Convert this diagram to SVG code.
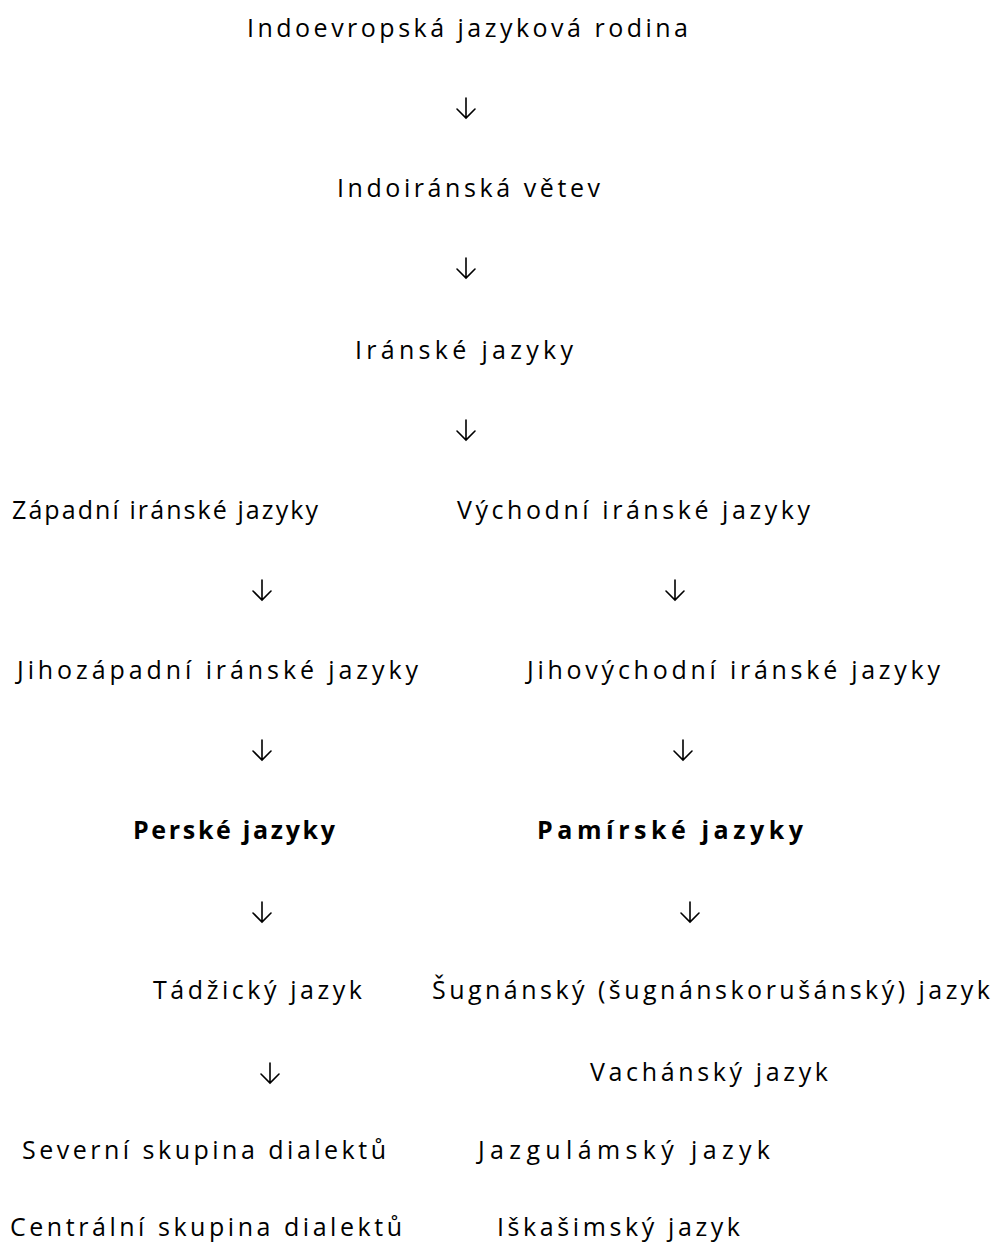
<svg xmlns="http://www.w3.org/2000/svg" width="996" height="1248" viewBox="0 0 996 1248">
<style>
text{font-family:"Open Sans","Liberation Sans",sans-serif;font-size:25px;fill:#000}
.b{font-weight:bold}
.ar{fill:none;stroke:#000;stroke-width:1.6;stroke-linecap:round;stroke-linejoin:miter}
</style>
<defs>
<path id="arr" class="ar" d="M0,-10 V10 M-9,1 L0,10 L9,1"/>
</defs>
<rect width="996" height="1248" fill="#fff"/>
<g id="n1"><text x="247" y="37" textLength="441" lengthAdjust="spacing">Indoevropská jazyková rodina</text></g>
<g id="n2"><text x="337" y="197" textLength="263" lengthAdjust="spacing">Indoiránská větev</text></g>
<g id="n3"><text x="355" y="359" textLength="218" lengthAdjust="spacing">Iránské jazyky</text></g>
<g id="n4"><text x="12" y="519" textLength="306" lengthAdjust="spacing">Západní iránské jazyky</text></g>
<g id="n5"><text x="457" y="519" textLength="353" lengthAdjust="spacing">Východní iránské jazyky</text></g>
<g id="n6"><text x="17" y="679" textLength="401" lengthAdjust="spacing">Jihozápadní iránské jazyky</text></g>
<g id="n7"><text x="527" y="679" textLength="413" lengthAdjust="spacing">Jihovýchodní iránské jazyky</text></g>
<g id="n8"><text class="b" x="133" y="839" textLength="202" lengthAdjust="spacing">Perské jazyky</text></g>
<g id="n9"><text class="b" x="537" y="839" textLength="266" lengthAdjust="spacing">Pamírské jazyky</text></g>
<g id="n10"><text x="153" y="999" textLength="209" lengthAdjust="spacing">Tádžický jazyk</text></g>
<g id="n11"><text x="432" y="999" textLength="558" lengthAdjust="spacing">Šugnánský (šugnánskorušánský) jazyk</text></g>
<g id="n12"><text x="590" y="1081" textLength="238" lengthAdjust="spacing">Vachánský jazyk</text></g>
<g id="n13"><text x="22" y="1159" textLength="364" lengthAdjust="spacing">Severní skupina dialektů</text></g>
<g id="n14"><text x="478" y="1159" textLength="292" lengthAdjust="spacing">Jazgulámský jazyk</text></g>
<g id="n15"><text x="10" y="1236" textLength="392" lengthAdjust="spacing">Centrální skupina dialektů</text></g>
<g id="n16"><text x="497" y="1236" textLength="243" lengthAdjust="spacing">Iškašimský jazyk</text></g>
<g id="connectors">
<use href="#arr" x="466" y="108"/>
<use href="#arr" x="466" y="268"/>
<use href="#arr" x="466" y="430"/>
<use href="#arr" x="262" y="590"/>
<use href="#arr" x="675" y="590"/>
<use href="#arr" x="262" y="750"/>
<use href="#arr" x="683" y="750"/>
<use href="#arr" x="262" y="912"/>
<use href="#arr" x="690" y="912"/>
<use href="#arr" x="270" y="1073"/>
</g>
</svg>
